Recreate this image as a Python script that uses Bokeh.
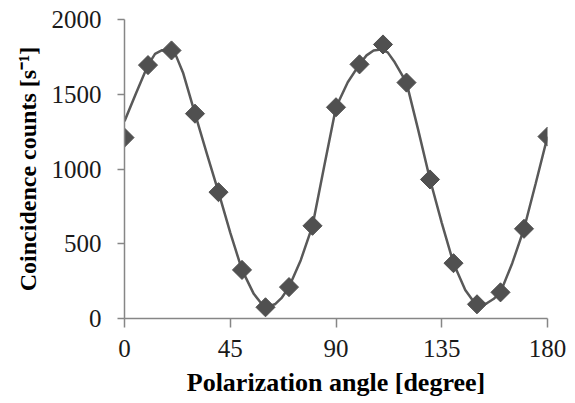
from bokeh.plotting import figure
from bokeh.models import FixedTicker, Range1d
from bokeh.embed import file_html
from bokeh.resources import INLINE
import numpy as np

# measured data points
angles = [0, 10, 20, 30, 40, 50, 60, 70, 80, 90, 100, 110, 120, 130, 140, 150, 160, 170, 180]
counts = [1210, 1695, 1793, 1370, 845, 325, 75, 210, 620, 1413, 1700, 1833, 1578, 930, 370, 95, 175, 600, 1217]

# smooth curve
curve_angles = [0, 5, 10, 13, 16, 19, 22, 25, 30, 35, 40, 45, 50, 55, 58, 61, 64, 67, 70, 75, 80, 85, 90,
                95, 100, 103, 106, 109, 112, 115, 120, 125, 130, 135, 140, 145, 148, 151, 154, 157, 160,
                165, 170, 175, 180]
curve_counts = [1320, 1510, 1695, 1770, 1795, 1790, 1755, 1640, 1370, 1105, 845, 575, 325, 165, 105, 80, 95,
                140, 210, 390, 620, 1020, 1413, 1580, 1700, 1760, 1793, 1800, 1780, 1714, 1578, 1260, 930,
                640, 370, 190, 125, 95, 100, 130, 175, 370, 600, 905, 1217]

x_ticks = [0, 45, 90, 135, 180]
y_ticks = [0, 500, 1000, 1500, 2000]

p = figure(width=567, height=395, output_backend="svg", toolbar_location=None,
           x_range=Range1d(0, 180), y_range=Range1d(0, 2000),
           min_border_left=124, min_border_right=20, min_border_top=19, min_border_bottom=77)
p.frame_width = 423
p.frame_height = 299
p.outline_line_color = None
p.grid.visible = False
p.background_fill_color = "white"

p.line(curve_angles, curve_counts, line_color="#595959", line_width=2.5)
p.scatter(angles, counts, marker="square", size=13.5, angle=np.pi / 4,
          fill_color="#505050", line_color="#505050")

for ax in (p.xaxis[0], p.yaxis[0]):
    ax.axis_line_color = "#868686"
    ax.axis_line_width = 1.5
    ax.major_tick_line_color = "#868686"
    ax.major_tick_line_width = 1.5
    ax.minor_tick_line_color = None
    ax.major_tick_in = 0
    ax.major_label_text_font = "Liberation Serif"
    ax.major_label_text_font_size = "25px"
    ax.major_label_text_color = "#1a1a1a"
    ax.axis_label_text_font = "Liberation Serif"
    ax.axis_label_text_font_style = "bold"
    ax.axis_label_text_color = "#000000"

p.xaxis.axis_label_text_font_size = "26px"
p.yaxis.axis_label_text_font_size = "24px"
p.xaxis.ticker = FixedTicker(ticks=x_ticks)
p.yaxis.ticker = FixedTicker(ticks=y_ticks)
p.xaxis.major_tick_out = 9
p.yaxis.major_tick_out = 7
p.xaxis.major_label_standoff = 12
p.yaxis.major_label_standoff = 16
p.xaxis.axis_label = "Polarization angle [degree]"
p.yaxis.axis_label = "Coincidence counts [s\u207b\u00b9]"
p.xaxis.axis_label_standoff = 8
p.yaxis.axis_label_standoff = 8

open("out.html", "w").write(file_html(p, INLINE))
